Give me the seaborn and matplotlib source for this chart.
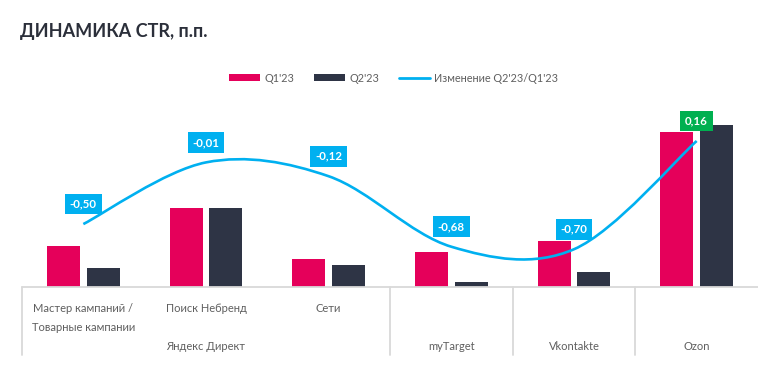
import numpy as np
import pandas as pd
import matplotlib
matplotlib.use("Agg")
import matplotlib.pyplot as plt
import matplotlib.transforms as mtransforms
from matplotlib.path import Path
from matplotlib.patches import PathPatch, Patch
from matplotlib.lines import Line2D
import seaborn as sns

# ---------------- data ----------------
cat_keys = ["master", "nebrend", "seti", "mytarget", "vk", "ozon"]
sub_labels = ["Мастер кампаний /\nТоварные кампании", "Поиск Небренд", "Сети", "", "", ""]
q1 = [0.93, 1.80, 0.63, 0.80, 1.04, 3.53]
q2 = [0.43, 1.79, 0.51, 0.12, 0.34, 3.69]
change = [-0.50, -0.01, -0.12, -0.68, -0.70, 0.16]
group_labels = ["Яндекс Директ", "myTarget", "Vkontakte", "Ozon"]
group_first = [0, 3, 4, 5]
group_last = [2, 3, 4, 5]
series_names = ["Q1'23", "Q2'23"]
line_name = "Изменение Q2'23/Q1'23"
title = "ДИНАМИКА CTR, п.п."

# ---------------- style ----------------
PINK = "#e5005a"
DARK = "#2e3445"
BLUE = "#00b0f0"
GREEN = "#00b050"
GRID = "#d9d9d9"
TXT = "#5f5f5f"

sns.set_theme(style="white")
plt.rcParams["font.family"] = ["Lato", "DejaVu Sans"]

W, H = 758, 376
fig = plt.figure(figsize=(W / 100, H / 100), dpi=100)
ax = fig.add_axes([22 / W, 89 / H, 736 / W, 188.8 / H])

df = pd.DataFrame({
    "cat": cat_keys * 2,
    "series": [series_names[0]] * len(q1) + [series_names[1]] * len(q2),
    "value": q1 + q2,
})
sns.barplot(data=df, x="cat", y="value", hue="series", order=cat_keys,
            hue_order=series_names, palette=[PINK, DARK], width=0.65, gap=0.17,
            saturation=1, legend=False, ax=ax, linewidth=0)
ax.set_xlim(-0.5, len(cat_keys) - 0.5)
ax.set_ylim(0, 4.29)
ax.set_xlabel("")
ax.set_ylabel("")
ax.set_xticks([])
ax.set_yticks([])
for s in ax.spines.values():
    s.set_visible(False)

# axis base line and separators
ax.axhline(0, color=GRID, lw=1.3, clip_on=False, zorder=3)
trans = mtransforms.blended_transform_factory(ax.transData, ax.transAxes)
seps = [g - 0.5 for g in group_first]
for xs in seps:
    ax.plot([xs, xs], [0, -0.36], transform=trans, color=GRID, lw=1.3, clip_on=False)

# category labels
for i, lab in enumerate(sub_labels):
    if lab:
        ax.text(i, -0.085, lab, transform=trans, ha="center", va="top",
                fontsize=8, color=TXT, linespacing=1.85)
for g, a, b in zip(group_labels, group_first, group_last):
    ax.text((a + b) / 2, -0.316, g, transform=trans, ha="center", va="center",
            fontsize=8, color=TXT)

# ---------------- smoothed line on secondary axis ----------------
ax2 = ax.twinx()
ax2.set_ylim(-1.0, 0.5)
ax2.set_yticks([])
for s in ax2.spines.values():
    s.set_visible(False)
ax2.grid(False)

xs = np.arange(len(change), dtype=float)
ys = np.array(change, dtype=float)
pts = np.column_stack([xs, ys])
n = len(pts)
verts = [tuple(pts[0])]
codes = [Path.MOVETO]
for i in range(n - 1):
    p0 = pts[i - 1] if i > 0 else pts[i]
    p1 = pts[i]
    p2 = pts[i + 1]
    p3 = pts[i + 2] if i + 2 < n else pts[i + 1]
    c1 = p1 + (p2 - p0) / 6
    c2 = p2 - (p3 - p1) / 6
    verts += [tuple(c1), tuple(c2), tuple(p2)]
    codes += [Path.CURVE4] * 3
ax2.add_patch(PathPatch(Path(verts, codes), facecolor="none", edgecolor=BLUE,
                        lw=1.9, capstyle="butt", zorder=3))

for x, v in zip(xs, ys):
    lab = f"{v:.2f}".replace(".", ",")
    col = GREEN if v > 0 else BLUE
    ax2.annotate(lab, (x, v), xytext=(0, 14.4), textcoords="offset points",
                 ha="center", va="center", fontsize=8.3, fontweight="bold",
                 color="white", zorder=5,
                 bbox=dict(boxstyle="square,pad=0.42", fc=col, ec="none"))

# ---------------- legend & title ----------------
handles = [Patch(facecolor=PINK, edgecolor="none"),
           Patch(facecolor=DARK, edgecolor="none"),
           Line2D([0], [0], color=BLUE, lw=2.0)]
leg = fig.legend(handles, series_names + [line_name], loc="center",
                 bbox_to_anchor=(393.5 / W, 1 - 78 / H), ncol=3, frameon=False,
                 fontsize=7.8, handlelength=2.9, handleheight=0.65,
                 handletextpad=0.4, columnspacing=1.8)
for t in leg.get_texts():
    t.set_color(TXT)

fig.text(20 / W, 1 - 32 / H, title, fontsize=13, fontweight="bold",
         color="#2b2f3a", va="center", ha="left")

fig.savefig("out.png", dpi=100)
